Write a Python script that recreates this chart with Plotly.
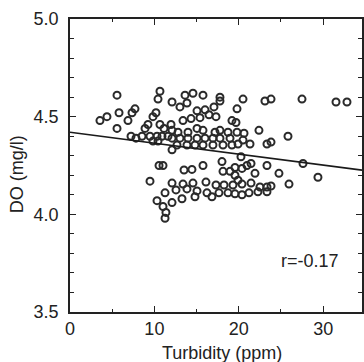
import plotly.graph_objects as go

# Turbidity (ppm) and DO (mg/l)
turbidity = [
    3.55, 4.38, 5.57, 5.81, 5.57, 6.87, 7.35, 7.70, 7.23, 7.82, 8.53, 8.89, 9.24, 9.48, 10.31,
    10.90, 11.61, 9.83, 10.43, 9.48, 10.31, 10.55,
    10.66, 10.43, 13.63, 14.57, 15.76, 17.77, 17.77, 20.50, 12.09, 13.86, 13.03, 17.06, 19.79,
    15.05, 16.00, 10.19, 9.83, 16.47, 17.30, 14.34, 15.40, 13.39, 19.19, 19.67, 10.66, 11.14,
    11.97, 12.09, 12.80, 13.98, 15.05, 15.76, 17.18, 17.77, 18.72, 19.79, 20.62, 22.39, 12.09,
    13.03, 13.98, 15.05, 16.00, 16.94, 17.77, 18.96, 12.68, 13.86, 14.81, 15.76, 16.94, 18.13,
    19.19, 19.91, 20.50, 21.33, 23.34, 23.82, 12.09, 25.83, 20.26, 23.10, 23.82, 27.49, 31.52,
    32.82,
    11.02, 13.51, 14.45, 15.76, 18.01, 18.13, 18.96, 19.55, 20.38, 20.97, 21.45, 23.34, 21.92,
    24.76, 27.61, 29.38, 25.95,
    12.09, 13.39, 14.57, 16.11, 17.30, 18.25, 19.31, 20.38, 21.45, 22.51, 23.34, 23.82, 19.55,
    19.91,
    12.56, 13.86, 15.05, 16.23, 17.65, 18.72, 19.55, 20.38, 21.21, 22.27, 23.34,
    11.26, 12.09, 13.27, 14.81, 16.82, 11.02, 11.37, 11.26,
]
do_mgl = [
    4.48, 4.50, 4.61, 4.52, 4.44, 4.48, 4.52, 4.54, 4.40, 4.39, 4.40, 4.44, 4.46, 4.40, 4.40,
    4.40, 4.40, 4.375, 4.375, 4.17, 4.07, 4.25,
    4.63, 4.59, 4.61, 4.62, 4.61, 4.60, 4.58, 4.59, 4.575, 4.57, 4.55, 4.55, 4.54,
    4.53, 4.535, 4.52, 4.50, 4.51, 4.50, 4.49, 4.495, 4.48, 4.48, 4.47, 4.46, 4.44,
    4.46, 4.43, 4.42, 4.42, 4.44, 4.43, 4.42, 4.43, 4.42, 4.42, 4.415, 4.43, 4.39,
    4.39, 4.39, 4.39, 4.39, 4.39, 4.39, 4.39, 4.355, 4.355, 4.355, 4.355, 4.355, 4.355,
    4.355, 4.36, 4.38, 4.36, 4.36, 4.37, 4.33, 4.40, 4.295, 4.58, 4.59, 4.59, 4.575,
    4.575,
    4.25, 4.227, 4.23, 4.25, 4.27, 4.22, 4.22, 4.24, 4.235, 4.25, 4.26, 4.25, 4.21,
    4.21, 4.26, 4.19, 4.155,
    4.16, 4.155, 4.16, 4.165, 4.15, 4.15, 4.15, 4.155, 4.16, 4.14, 4.14, 4.145, 4.20,
    4.175,
    4.125, 4.13, 4.12, 4.11, 4.11, 4.11, 4.105, 4.10, 4.11, 4.115, 4.115,
    4.11, 4.06, 4.08, 4.09, 4.09, 4.04, 4.01, 3.98,
]

fit_intercept = 4.42
fit_slope = -0.0056
fit_x = [0, 34.6]
fit_y = [fit_intercept + fit_slope * v for v in fit_x]

x_ticks = [0, 10, 20, 30]
y_ticks = [3.5, 4.0, 4.5, 5.0]
y_tick_text = ["3.5", "4.0", "4.5", "5.0"]
r_label = "r=-0.17"

font_family = "Liberation Sans, Arial, sans-serif"
ink = "#222222"
fsize = 18

fig = go.Figure()
fig.add_trace(go.Scatter(
    x=turbidity, y=do_mgl, mode="markers",
    marker=dict(symbol="circle-open", size=7, color="#2a2a2a", line=dict(width=2)),
    showlegend=False, hoverinfo="skip", cliponaxis=False,
))
fig.add_trace(go.Scatter(
    x=fit_x, y=fit_y, mode="lines",
    line=dict(color="#1a1a1a", width=1.6),
    showlegend=False, hoverinfo="skip",
))

fig.add_annotation(x=28.4, y=3.76, xref="x", yref="y", text=r_label, showarrow=False,
                   xanchor="center", yanchor="middle",
                   font=dict(family=font_family, size=fsize, color=ink))
fig.add_annotation(x=0.52, y=-0.14, xref="paper", yref="paper", text="Turbidity (ppm)",
                   showarrow=False, xanchor="center", yanchor="middle",
                   font=dict(family=font_family, size=fsize, color=ink))
fig.add_annotation(x=-0.182, y=0.47, xref="paper", yref="paper", text="DO (mg/l)",
                   textangle=-90, showarrow=False, xanchor="center", yanchor="middle",
                   font=dict(family=font_family, size=fsize, color=ink))

fig.update_xaxes(
    range=[0, 34.6], tickvals=x_ticks, ticks="inside", ticklen=6, tickwidth=1.3,
    tickcolor=ink, showline=True, linecolor=ink, linewidth=1.6, mirror="allticks",
    showgrid=False, zeroline=False, ticklabelstandoff=0, automargin=False,
    minor=dict(ticks="inside", dtick=5, tick0=0, ticklen=3, tickwidth=1.2, tickcolor=ink),
    tickfont=dict(family=font_family, size=fsize, color=ink),
)
fig.update_yaxes(
    range=[3.5, 5.0], tickvals=y_ticks, ticktext=y_tick_text, ticks="inside", ticklen=6,
    tickwidth=1.3, tickcolor=ink, showline=True, linecolor=ink, linewidth=1.6,
    mirror="allticks", showgrid=False, zeroline=False, ticklabelstandoff=6, automargin=False,
    minor=dict(ticks="inside", dtick=0.1, tick0=3.5, ticklen=4, tickwidth=1.2, tickcolor=ink),
    tickfont=dict(family=font_family, size=fsize, color=ink),
)
fig.update_layout(
    width=364, height=362,
    margin=dict(l=70, r=2, t=19, b=50),
    paper_bgcolor="white", plot_bgcolor="white",
)
fig.write_html("out.html", config={"displayModeBar": False},
               post_script="document.body.style.margin='0';")
